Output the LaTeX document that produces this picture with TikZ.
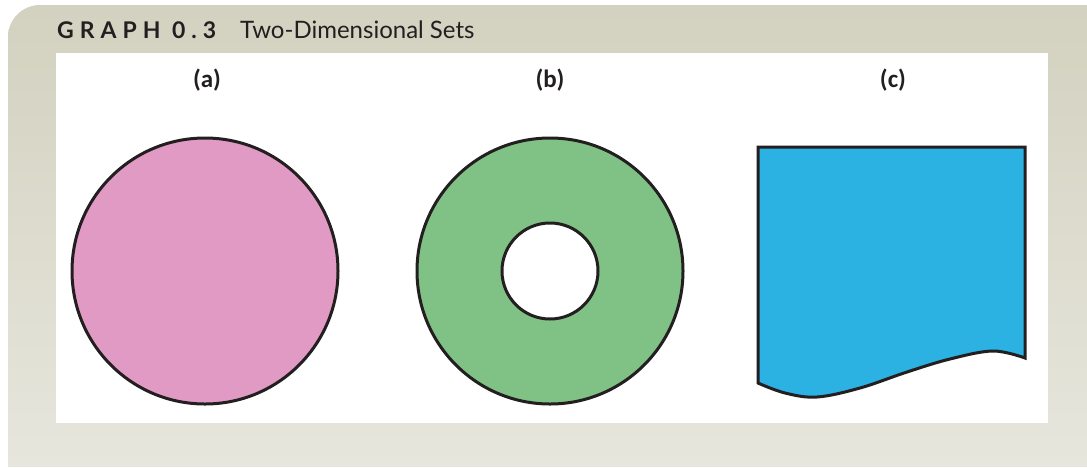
\documentclass[tikz,border=0pt]{standalone}
\usepackage{fontspec}
\setmainfont{Carlito}
\newfontfamily\capfont[LetterSpace=26]{Lato}
\newfontfamily\headfont{Lato}
\usepackage{tikz}
\usetikzlibrary{positioning}

\definecolor{panelTop}{HTML}{D3D1BF}
\definecolor{panelBot}{HTML}{E6E6DD}
\definecolor{setPink}{HTML}{E09AC4}
\definecolor{setGreen}{HTML}{80C185}
\definecolor{setBlue}{HTML}{2CB1E3}
\definecolor{setEdge}{HTML}{231F20}

\tikzset{
  setline/.style={draw=setEdge, line width=3pt},
  partlabel/.style={font=\fontsize{25}{28}\selectfont\bfseries, inner sep=0pt, text=setEdge}
}

\begin{document}
\begin{tikzpicture}[x=1pt, y=-1pt]
  \useasboundingbox (0,0) rectangle (1087,467);

  % Panel with rounded top-left corner
  \shade[top color=panelTop, bottom color=panelBot]
    (8,467) [rounded corners=32pt] -- (8,5) [sharp corners] -- (1087,5) -- (1087,467) -- cycle;
  \fill[white] (56,53) rectangle (1048,423);

  % Title
  \node[anchor=base west, inner sep=0pt, font=\capfont\fontsize{23}{26}\selectfont\bfseries, text=setEdge]
    (graphNo) at (57,38) {GRAPH 0.3};
  \node[anchor=base west, inner sep=0pt, font=\headfont\fontsize{24}{27}\selectfont, text=setEdge]
    (graphTitle) at (240,38) {Two-Dimensional Sets};

  % Part labels
  \node[partlabel] (labA) at (207,80) {(a)};
  \node[partlabel] (labB) at (550,80) {(b)};
  \node[partlabel] (labC) at (893,80) {(c)};

  % (a) disc
  \draw[setline, fill=setPink] (205,271) circle[radius=133];

  % (b) annulus
  \draw[setline, fill=setGreen, even odd rule]
    (550,271) circle[radius=133] (550,271) circle[radius=48];

  % (c) region with wavy lower edge
  \draw[setline, fill=setBlue, line join=miter]
    (758,383) -- (758,147) -- (1025,147) -- (1025,358)
    -- plot[smooth, tension=0.6] coordinates {
      (1025,358) (993,351) (950,359) (907,372) (860,388) (817,397) (785,393) (758,383)
    } -- cycle;
\end{tikzpicture}
\end{document}
